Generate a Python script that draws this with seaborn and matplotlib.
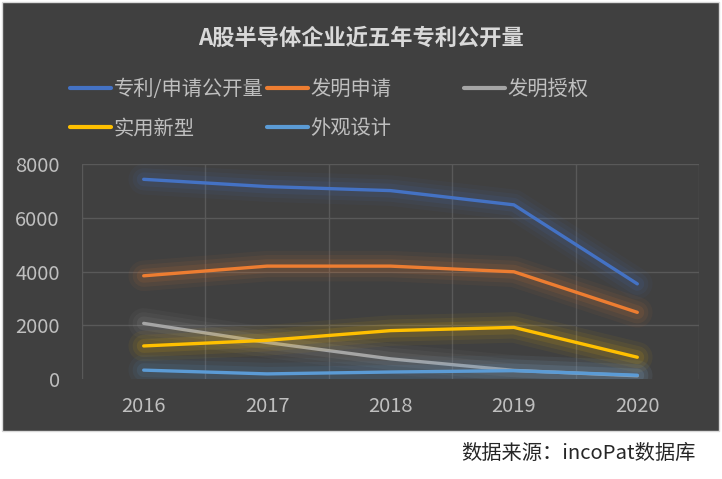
import pandas as pd
import numpy as np
import seaborn as sns
import matplotlib.pyplot as plt
import matplotlib.patheffects as pe
from matplotlib.patches import Rectangle
from matplotlib.lines import Line2D

# data
years = ["2016", "2017", "2018", "2019", "2020"]
series_names = ["专利/申请公开量", "发明申请", "发明授权", "实用新型", "外观设计"]
total_pub = [7430, 7160, 7010, 6480, 3540]
invention_app = [3840, 4200, 4200, 3990, 2480]
invention_grant = [2070, 1360, 750, 320, 120]
utility_model = [1230, 1440, 1800, 1920, 810]
design = [330, 190, 260, 310, 140]
colors = ["#4472C4", "#ED7D31", "#A5A5A5", "#FFC000", "#5B9BD5"]

title = "A股半导体企业近五年专利公开量"
source_note = "数据来源：incoPat数据库"

values = [total_pub, invention_app, invention_grant, utility_model, design]
df = pd.DataFrame({
    "year": years * len(series_names),
    "series": np.repeat(series_names, len(years)),
    "count": np.concatenate(values),
})

sns.set_theme(style="dark")
plt.rcParams["font.family"] = ["Noto Sans CJK SC", "DejaVu Sans"]

bg = "#404040"
text_col = "#BFBFBF"
grid_col = "#595959"

fig = plt.figure(figsize=(7.22, 4.79), dpi=100, facecolor="white")
# dark chart panel with thin light border
fig.patches.append(Rectangle((2 / 722, 1 - 431 / 479), 717 / 722, 429 / 479,
                             transform=fig.transFigure, facecolor=bg,
                             edgecolor="#D9D9D9", linewidth=1, zorder=-10))

ax = fig.add_axes([82 / 722, 1 - 379 / 479, 617 / 722, 215 / 479])
ax.set_facecolor(bg)

sns.lineplot(data=df, x="year", y="count", hue="series", hue_order=series_names,
             palette=colors, linewidth=2.4, sort=False, legend=False, ax=ax)

for line, c in zip(ax.get_lines(), colors):
    line.set_solid_capstyle("round")
    line.set_path_effects([
        pe.Stroke(linewidth=22, foreground=c, alpha=0.05),
        pe.Stroke(linewidth=16, foreground=c, alpha=0.07),
        pe.Stroke(linewidth=10, foreground=c, alpha=0.1),
        pe.Normal(),
    ])

ax.set_xlim(-0.5, 4.5)
ax.set_ylim(0, 8000)
ax.set_yticks([0, 2000, 4000, 6000, 8000])
ax.set_xticks(range(len(years)))
ax.set_xticklabels(years)
ax.set_xticks(np.arange(-0.5, 5, 1.0), minor=True)
ax.set_xlabel("")
ax.set_ylabel("")

ax.grid(False)
ax.grid(True, axis="y", which="major", color=grid_col, linewidth=1)
ax.grid(True, axis="x", which="minor", color=grid_col, linewidth=1)
ax.yaxis.get_gridlines()[0].set_visible(False)
ax.set_axisbelow(True)
for s in ax.spines.values():
    s.set_visible(False)

ax.tick_params(axis="y", which="both", length=0, pad=16, labelsize=14.5, labelcolor=text_col)
ax.tick_params(axis="x", which="both", length=0, pad=12, labelsize=14.5, labelcolor=text_col)

fig.text(0.5, 1 - 38 / 479, title, ha="center", va="center", fontsize=16,
         fontweight="bold", color="#D9D9D9")

# legend: Excel lays entries out row-wise in three equal columns
handles = [Line2D([], [], color=c, linewidth=3) for c in colors]
col_x = [70 / 722, 267 / 722, 464 / 722]
for i, x0 in enumerate(col_x):
    idx = [k for k in (i, i + 3) if k < len(series_names)]
    fig.legend([handles[k] for k in idx], [series_names[k] for k in idx],
               loc="upper left", bbox_to_anchor=(x0, 1 - 79 / 479),
               frameon=False, fontsize=14.6, labelcolor=text_col,
               handlelength=2.0, handletextpad=0.15, labelspacing=0.9,
               borderpad=0, borderaxespad=0)

fig.text(696 / 722, 1 - 453 / 479, source_note, ha="right", va="center",
         fontsize=14.6, color="#262626")

fig.savefig("out.png", dpi=100, facecolor="white")
